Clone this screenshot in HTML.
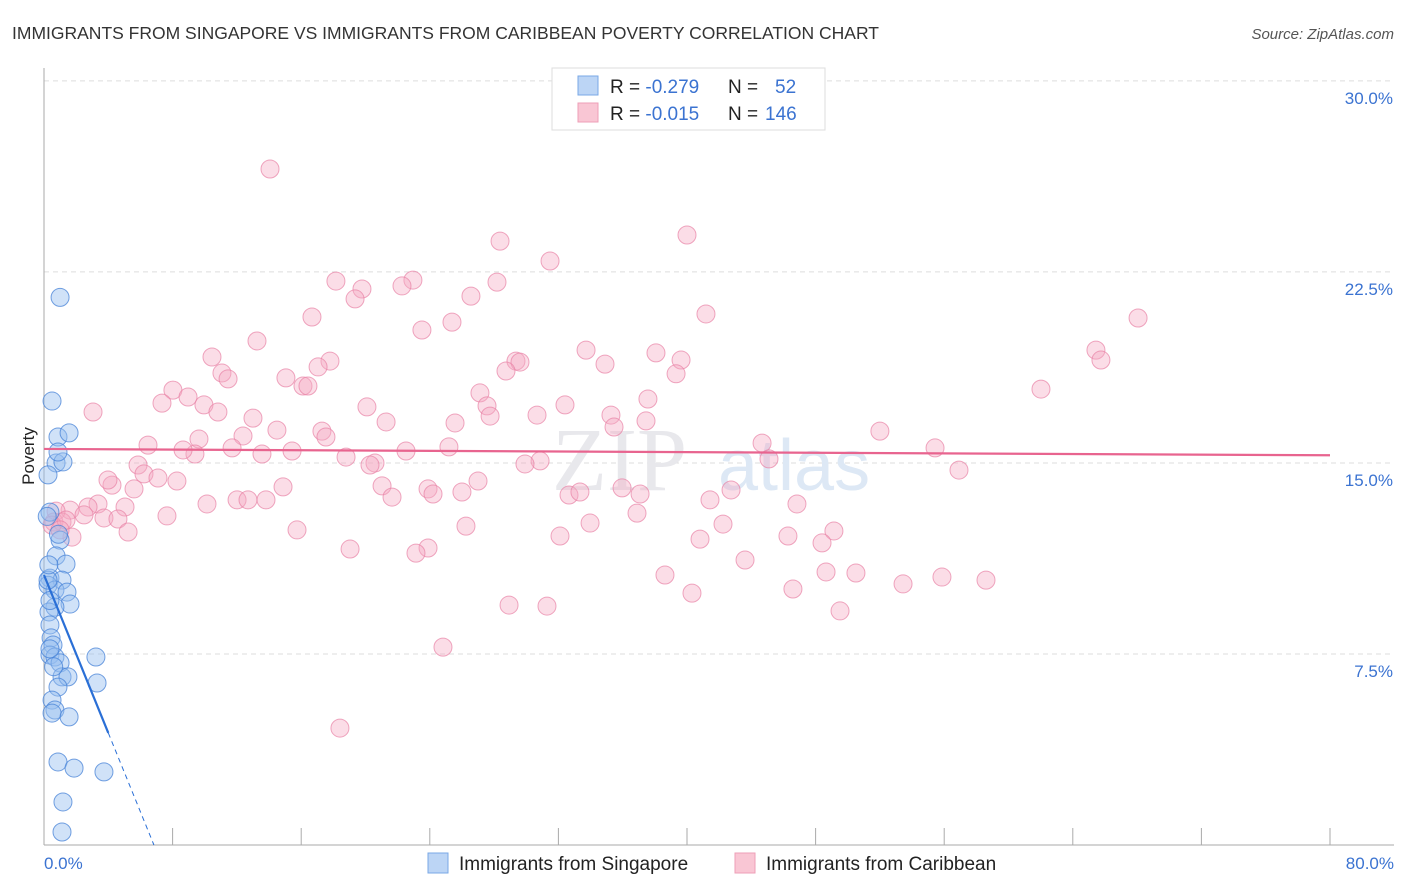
<!DOCTYPE html>
<html><head><meta charset="utf-8"><style>
body{margin:0;background:#fff;font-family:"Liberation Sans",sans-serif;}
</style></head><body>
<svg id="chart" width="1406" height="892" xmlns="http://www.w3.org/2000/svg" style="display:block">
<text x="12" y="39" font-size="17.5" fill="#333">IMMIGRANTS FROM SINGAPORE VS IMMIGRANTS FROM CARIBBEAN POVERTY CORRELATION CHART</text>
<text x="1394" y="39" font-size="15" fill="#555" text-anchor="end" font-style="italic">Source: ZipAtlas.com</text>
<g id="grid"></g>
<text x="552" y="490" font-size="90" fill="#e8e8ec" font-family="Liberation Serif">ZIP</text>
<text x="718" y="490" font-size="72" fill="#dde8f5">atlas</text>
<g id="pts"></g>
<g id="lines"></g>
<text transform="translate(34,456) rotate(-90)" font-size="17" fill="#222" text-anchor="middle">Poverty</text>
<g>
<rect x="552" y="68" width="273" height="62" fill="#fff" stroke="#ddd"/>
<rect x="578" y="76" width="20" height="19" fill="#bcd5f5" stroke="#7aa8e6"/>
<rect x="578" y="103" width="20" height="19" fill="#f9c6d4" stroke="#ee9fb7"/>
<text x="610" y="93" font-size="19" fill="#222">R = <tspan fill="#3b73d1">-0.279</tspan><tspan x="728">N = </tspan><tspan x="775" fill="#3b73d1">52</tspan></text>
<text x="610" y="120" font-size="19" fill="#222">R = <tspan fill="#3b73d1">-0.015</tspan><tspan x="728">N = </tspan><tspan x="765" fill="#3b73d1">146</tspan></text>
</g>
<text x="44" y="869" font-size="17" fill="#3b73d1">0.0%</text>
<text x="1394" y="869" font-size="17" fill="#3b73d1" text-anchor="end">80.0%</text>
<g>
<rect x="428" y="853" width="20" height="20" fill="#bcd5f5" stroke="#7aa8e6"/>
<text x="459" y="870" font-size="19" fill="#222">Immigrants from Singapore</text>
<rect x="735" y="853" width="20" height="20" fill="#f9c6d4" stroke="#ee9fb7"/>
<text x="766" y="870" font-size="19" fill="#222">Immigrants from Caribbean</text>
</g>
</svg>
<script>
const yTicks=[7.5,15,22.5,30];
const yTickLabels=["7.5%","15.0%","22.5%","30.0%"];
const xTicks=[8,16,24,32,40,48,56,64,72,80];
const blueX=[1.0,0.5,0.87,1.56,0.75,1.18,0.87,0.25,0.37,1.0,0.75,1.37,0.37,1.12,0.25,0.68,1.43,1.62,0.68,0.31,0.37,0.44,0.56,0.37,0.68,1.0,3.23,1.12,1.49,0.87,3.3,0.5,0.68,0.5,1.56,0.87,1.87,3.73,1.18,1.12,0.25,0.37,0.2,0.37,0.6,0.3,0.9];
const blueY=[21.5,17.43,16.02,16.18,15.0,15.04,15.43,14.53,13.07,11.97,11.35,11.03,10.48,10.4,10.2,10.01,9.93,9.46,9.34,9.15,8.64,8.13,7.85,7.46,7.38,7.15,7.38,6.6,6.6,6.2,6.36,5.69,5.3,5.18,5.03,3.26,3.02,2.87,1.69,0.51,10.4,9.6,12.9,7.7,7.0,11.0,12.2];
const pinkX=[14.06,28.37,40.0,31.48,18.16,22.95,22.27,19.78,19.35,28.18,26.56,16.67,41.18,68.06,25.38,23.51,13.25,33.72,38.07,65.44,65.75,10.45,17.79,29.36,29.61,34.9,39.63,17.05,11.07,11.45,15.05,16.11,16.42,28.74,39.32,27.12,62.02,8.02,8.96,7.34,9.95,10.82,3.05,20.09,27.56,27.75,30.67,32.41,37.57,35.27,13.0,21.28,25.57,37.45,14.49,35.46,52.0,17.29,17.54,12.38,6.47,9.64,9.39,8.65,11.7,13.56,15.43,22.52,25.19,18.79,44.67,55.43,45.1,5.85,20.59,20.28,30.86,29.92,6.22,7.09,8.27,4.23,56.92,3.98,5.6,21.03,27.0,14.87,23.89,24.2,26.0,21.65,32.66,33.34,35.96,37.08,42.74,46.84,41.43,12.01,12.69,13.81,10.14,5.04,3.36,2.74,1.62,0.75,2.49,0.62,1.12,3.73,4.6,7.65,0.5,36.89,42.24,33.97,26.25,15.74,5.23,1.74,32.1,40.81,46.28,49.14,48.4,19.04,23.89,23.14,43.61,38.63,48.65,50.51,55.86,53.44,58.6,40.31,46.59,28.93,31.29,49.52,24.82,18.41,1.37,1.0];
const pinkY=[26.54,23.71,23.95,22.93,22.14,22.18,21.95,21.83,21.44,22.10,21.55,20.73,20.85,20.69,20.53,20.22,19.79,19.43,19.32,19.43,19.04,19.16,19.0,19.0,18.96,18.88,19.04,18.77,18.53,18.3,18.34,18.02,18.02,18.61,18.5,17.75,17.9,17.86,17.59,17.35,17.28,17.0,17.0,17.2,17.24,16.84,16.88,17.28,17.51,16.88,16.76,16.61,16.57,16.65,16.29,16.41,16.25,16.25,16.02,16.06,15.7,15.94,15.35,15.51,15.59,15.35,15.47,15.47,15.63,15.23,15.78,15.59,15.16,14.92,15.0,14.92,15.08,14.96,14.57,14.41,14.29,14.13,14.72,14.33,13.98,14.1,14.29,14.06,13.98,13.78,13.86,13.66,13.74,13.86,14.02,13.78,13.94,13.39,13.55,13.55,13.55,13.55,13.39,13.27,13.39,13.27,13.15,13.11,12.96,12.68,12.68,12.84,12.8,12.92,12.56,13.03,12.6,12.64,12.52,12.37,12.29,12.09,12.13,12.01,12.13,12.33,11.86,11.62,11.66,11.46,11.19,10.6,10.72,10.68,10.52,10.25,10.4,9.89,10.05,9.42,9.38,9.19,7.77,4.59,12.76,12.37];
const blueTrend=[10.6,-1.55];   // intercept, slope per %
const pinkTrend=[15.55,-0.0031];
const X=v=>44+v*16.075, Y=v=>845-v*25.47;
const NS="http://www.w3.org/2000/svg";
function mk(p,t,a){const e=document.createElementNS(NS,t);for(const k in a)e.setAttribute(k,a[k]);p.appendChild(e);return e;}
const grid=document.getElementById('grid');
yTicks.forEach((t,i)=>{
  const l=mk(grid,'line',{x1:44,x2:1394,y1:Y(t),y2:Y(t),stroke:'#ddd','stroke-dasharray':'5,4'});
  
  
  const tx=mk(grid,'text',{x:1393,y:Y(t)+23,'font-size':17,fill:'#3b73d1','text-anchor':'end'});
  tx.textContent=yTickLabels[i];
  
  
});
const ax=mk(grid,'line',{x1:44,x2:44,y1:68,y2:845,stroke:'#aaa'});


const bx=mk(grid,'line',{x1:44,x2:1394,y1:845,y2:845,stroke:'#aaa'});


xTicks.forEach(t=>{
  const l=mk(grid,'line',{x1:X(t),x2:X(t),y1:828,y2:845,stroke:'#aaa'});
  
  
});
const pts=document.getElementById('pts');
pinkX.forEach((x,i)=>{
  const c=mk(pts,'circle',{cx:X(x),cy:Y(pinkY[i]),r:9,fill:'rgba(246,170,195,0.4)',stroke:'rgba(232,130,165,0.7)','stroke-width':1});
  
  
});
blueX.forEach((x,i)=>{
  const c=mk(pts,'circle',{cx:X(x),cy:Y(blueY[i]),r:9,fill:'rgba(150,190,240,0.45)',stroke:'rgba(70,130,215,0.75)','stroke-width':1});
  
  
});
const lines=document.getElementById('lines');
const pl=mk(lines,'line',{x1:X(0),y1:Y(pinkTrend[0]),x2:X(80),y2:Y(pinkTrend[0]+pinkTrend[1]*80),stroke:'#e8648f','stroke-width':2.2});


const bl=mk(lines,'line',{x1:X(0),y1:Y(blueTrend[0]),x2:X(4),y2:Y(blueTrend[0]+blueTrend[1]*4),stroke:'#2a6fd6','stroke-width':2.2});


const xe=-blueTrend[0]/blueTrend[1];
const bd=mk(lines,'line',{x1:X(4),y1:Y(blueTrend[0]+blueTrend[1]*4),x2:X(xe),y2:Y(0),stroke:'#2a6fd6','stroke-width':1,'stroke-dasharray':'5,4'});


</script>
</body></html>
